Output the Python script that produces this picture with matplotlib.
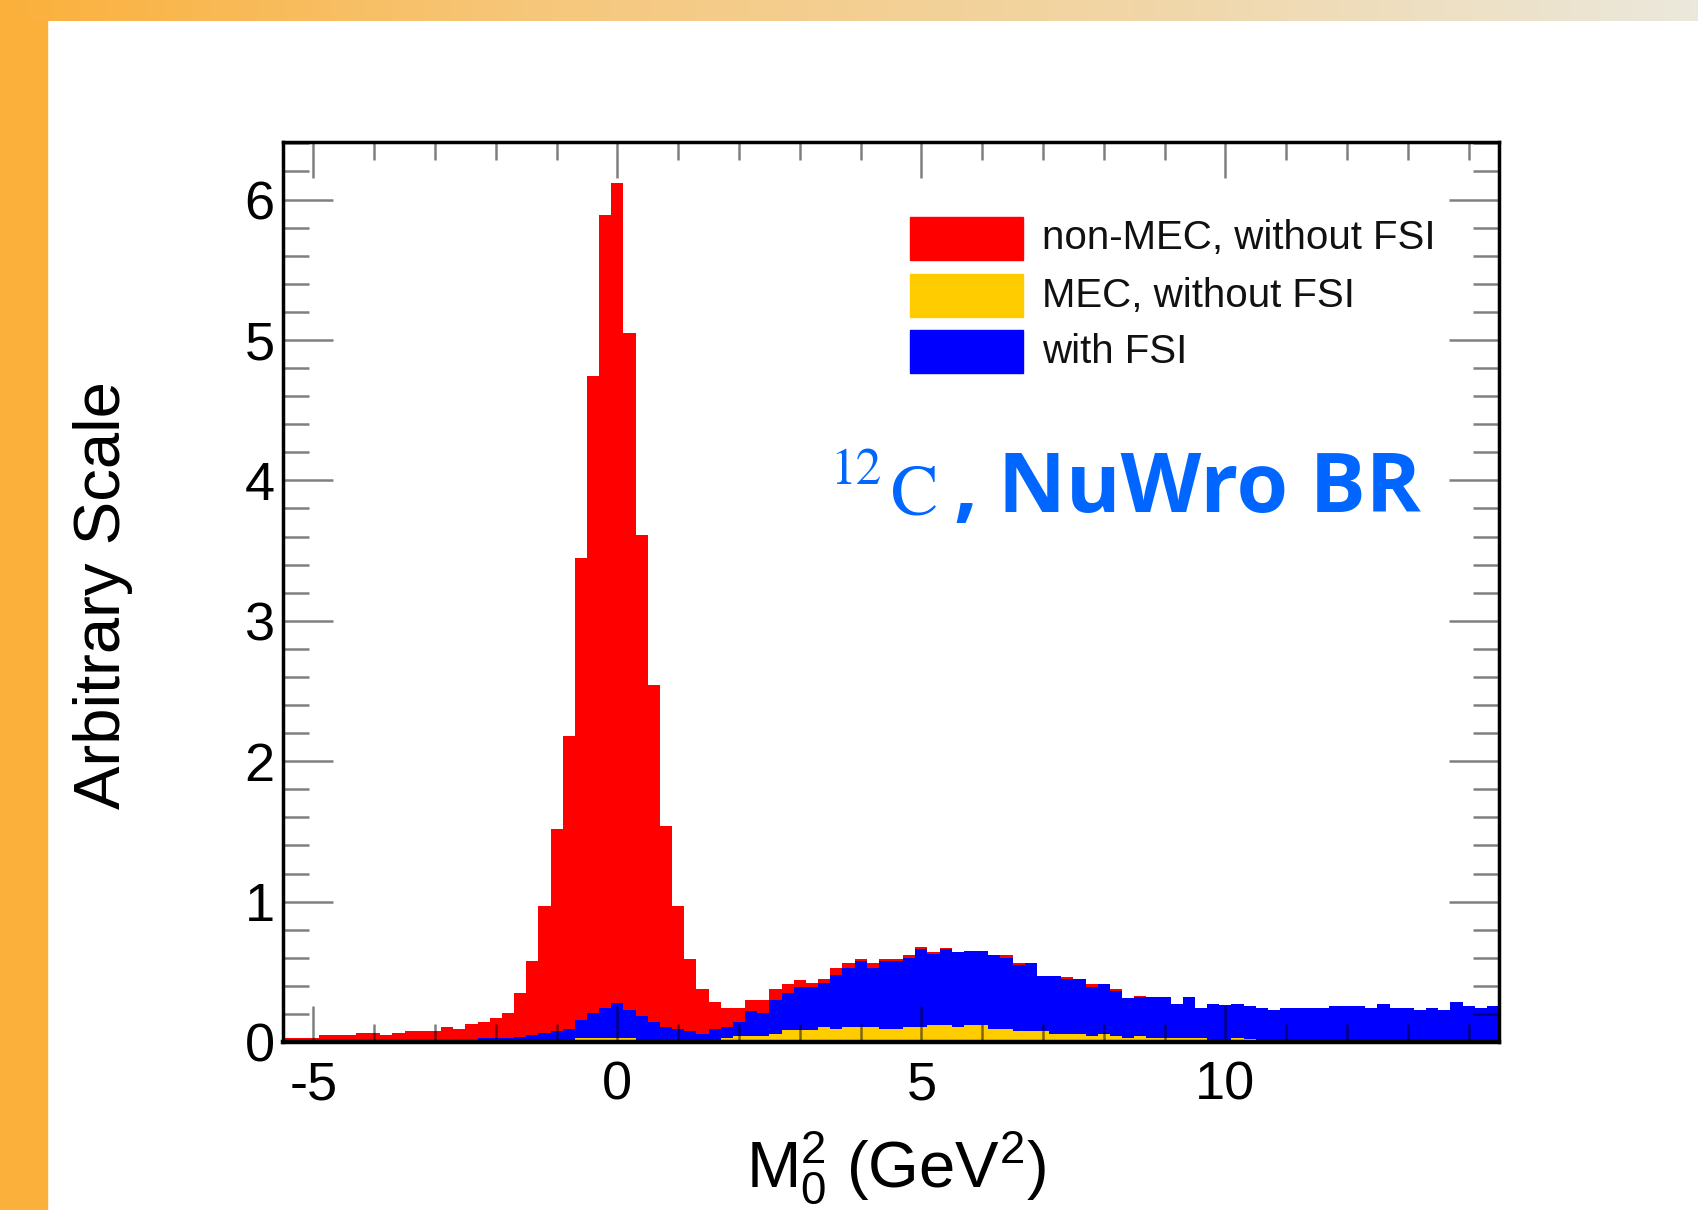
import numpy as np
import matplotlib
matplotlib.use("Agg")
import matplotlib.pyplot as plt
from matplotlib.colors import LinearSegmentedColormap
from matplotlib.patches import Rectangle
from matplotlib.ticker import MultipleLocator

W, H = 1698, 1210

# histogram axis: 100 bins of 0.2 GeV^2 from -5.5 to 14.5
X_LO, X_HI, N_BINS = -5.5, 14.5, 100

non_mec = [
    0.031, 0.031, 0.031, 0.047, 0.047, 0.047, 0.066, 0.066, 0.050, 0.064,
    0.078, 0.078, 0.078, 0.107, 0.095, 0.126, 0.142, 0.173, 0.204, 0.35,
    0.577, 0.97, 1.52, 2.18, 3.45, 4.74, 5.89, 6.12, 5.05, 3.61,
    2.54, 1.54, 0.97, 0.59, 0.375, 0.287, 0.24, 0.24, 0.30, 0.30,
    0.38, 0.41, 0.44, 0.42, 0.45, 0.53, 0.56, 0.59, 0.56, 0.59,
    0.59, 0.62, 0.68, 0.64, 0.67, 0.64, 0.65, 0.65, 0.62, 0.62,
    0.56, 0.56, 0.47, 0.47, 0.465, 0.45, 0.41, 0.41, 0.38, 0.31,
    0.33, 0.32, 0.32, 0.27, 0.32, 0.24, 0.27, 0.26, 0.27, 0.255,
    0.245, 0.23, 0.245, 0.245, 0.245, 0.245, 0.255, 0.255, 0.255, 0.24,
    0.27, 0.245, 0.245, 0.23, 0.24, 0.23, 0.285, 0.255, 0.24, 0.255,
]
with_fsi = [
    0, 0, 0, 0, 0, 0, 0, 0, 0, 0,
    0, 0, 0, 0, 0, 0, 0.03, 0.03, 0.03, 0.035,
    0.05, 0.065, 0.08, 0.095, 0.155, 0.21, 0.24, 0.275, 0.23, 0.185,
    0.14, 0.11, 0.09, 0.08, 0.06, 0.09, 0.11, 0.14, 0.22, 0.21,
    0.30, 0.35, 0.39, 0.39, 0.42, 0.48, 0.53, 0.58, 0.53, 0.58,
    0.58, 0.60, 0.66, 0.63, 0.66, 0.64, 0.65, 0.65, 0.62, 0.60,
    0.55, 0.56, 0.47, 0.47, 0.45, 0.45, 0.39, 0.41, 0.365, 0.31,
    0.32, 0.32, 0.32, 0.27, 0.32, 0.24, 0.27, 0.26, 0.27, 0.255,
    0.245, 0.23, 0.245, 0.245, 0.245, 0.245, 0.255, 0.255, 0.255, 0.24,
    0.27, 0.245, 0.245, 0.23, 0.24, 0.23, 0.285, 0.255, 0.24, 0.255,
]
mec = [
    0.005, 0.005, 0.005, 0.005, 0.005, 0.005, 0.005, 0.005, 0.005, 0.005,
    0.005, 0.005, 0.005, 0.005, 0.005, 0.005, 0.008, 0.008, 0.008, 0.008,
    0.008, 0.008, 0.008, 0.008, 0.03, 0.03, 0.03, 0.03, 0.03, 0.008,
    0.008, 0.008, 0.008, 0.008, 0.008, 0.01, 0.03, 0.04, 0.045, 0.045,
    0.057, 0.085, 0.085, 0.085, 0.105, 0.09, 0.105, 0.105, 0.105, 0.09,
    0.09, 0.105, 0.105, 0.12, 0.12, 0.11, 0.12, 0.12, 0.09, 0.09,
    0.075, 0.075, 0.075, 0.06, 0.06, 0.06, 0.045, 0.06, 0.045, 0.03,
    0.045, 0.03, 0.03, 0.03, 0.03, 0.03, 0.015, 0.015, 0.03, 0.02,
    0.005, 0.005, 0.005, 0.005, 0.005, 0.005, 0.005, 0.005, 0.005, 0.005,
    0.005, 0.005, 0.005, 0.005, 0.005, 0.005, 0.005, 0.005, 0.005, 0.005,
]
labels = ["non-MEC, without FSI", "MEC, without FSI", "with FSI"]
colors = ["#ff0000", "#ffcc00", "#0000ff"]

plt.rcParams["font.family"] = ["Liberation Sans", "DejaVu Sans"]
plt.rcParams["axes.unicode_minus"] = False
plt.rcParams["mathtext.fontset"] = "custom"
plt.rcParams["mathtext.rm"] = "Liberation Sans"
plt.rcParams["mathtext.it"] = "Liberation Sans:italic"


def fpos(x, y):
    return x / W, 1 - y / H


fig = plt.figure(figsize=(W / 100, H / 100), dpi=100)
fig.patch.set_facecolor("white")

# slide decoration: orange strip on the left, gradient bar on top
fig.add_artist(Rectangle((0, 0), 47 / W, 1, transform=fig.transFigure,
                         color="#fbb03b", zorder=0))
gax = fig.add_axes([0, 1 - 21 / H, 1, 21 / H])
grad = LinearSegmentedColormap.from_list(
    "bar", ["#fbb03b", "#f6c87e", "#f1d6a6", "#ebe8dc"])
gax.imshow(np.linspace(0, 1, 512)[None, :], aspect="auto", cmap=grad)
gax.axis("off")

ax = fig.add_axes([283 / W, 1 - 1042 / H, 1216 / W, 900 / H])
edges = np.linspace(X_LO, X_HI, N_BINS + 1)
ax.stairs(non_mec, edges, fill=True, color=colors[0], lw=0)
ax.stairs(with_fsi, edges, fill=True, color=colors[2], lw=0)
ax.stairs(mec, edges, fill=True, color=colors[1], lw=0)

ax.set_xlim(X_LO, X_HI)
ax.set_ylim(0, 6.41)
ax.xaxis.set_major_locator(MultipleLocator(5))
ax.xaxis.set_minor_locator(MultipleLocator(1))
ax.yaxis.set_major_locator(MultipleLocator(1))
ax.yaxis.set_minor_locator(MultipleLocator(0.2))

tick_col = (0, 0, 0, 0.5)
ax.tick_params(which="both", direction="in", top=True, right=True,
               color=tick_col, width=1.8, labelsize=39)
ax.tick_params(axis="x", which="major", length=26, pad=13)
ax.tick_params(axis="x", which="minor", length=13)
ax.tick_params(axis="y", which="major", length=36, pad=6)
ax.tick_params(axis="y", which="minor", length=19)
for name, sp in ax.spines.items():
    sp.set_linewidth(3.2 if name == "bottom" else 2.5)
    sp.set_color("black")

# legend boxes drawn ROOT-style
box_tops = [217, 274, 330]
for lab, col, top in zip(labels, colors, box_tops):
    x0, y0 = (910 - 283) / 1216, (1042 - top - 43) / 900
    ax.add_patch(Rectangle((x0, y0), 113 / 1216, 43 / 900, transform=ax.transAxes,
                           color=col, clip_on=False, zorder=3))
    ax.text((1042 - 283) / 1216, y0 + 21.5 / 900, lab, transform=ax.transAxes,
            ha="left", va="center", fontsize=29, color="#111111", zorder=3)

# axis titles
fig.text(*fpos(103, 595), "Arbitrary Scale", rotation=90, ha="center",
         va="center", fontsize=47)
fig.text(*fpos(896, 1187), r"M$_0^2$ (GeV$^2$)", ha="center",
         va="baseline", fontsize=47)

# annotation
blue = "#0066ff"
fig.text(*fpos(830, 484), "12", ha="left", va="baseline", fontsize=37,
         color=blue, family="STIXGeneral")
fig.text(*fpos(891, 514), "C", ha="left", va="baseline", fontsize=51,
         color=blue, family="STIXGeneral")
fig.text(*fpos(953, 512), ",", ha="left", va="baseline", fontsize=60,
         color=blue, family="Open Sans", weight="bold")
fig.text(*fpos(998, 512), "NuWro BR", ha="left", va="baseline", fontsize=60,
         color=blue, family="Open Sans", weight="bold")

fig.savefig("out.png", dpi=100)
